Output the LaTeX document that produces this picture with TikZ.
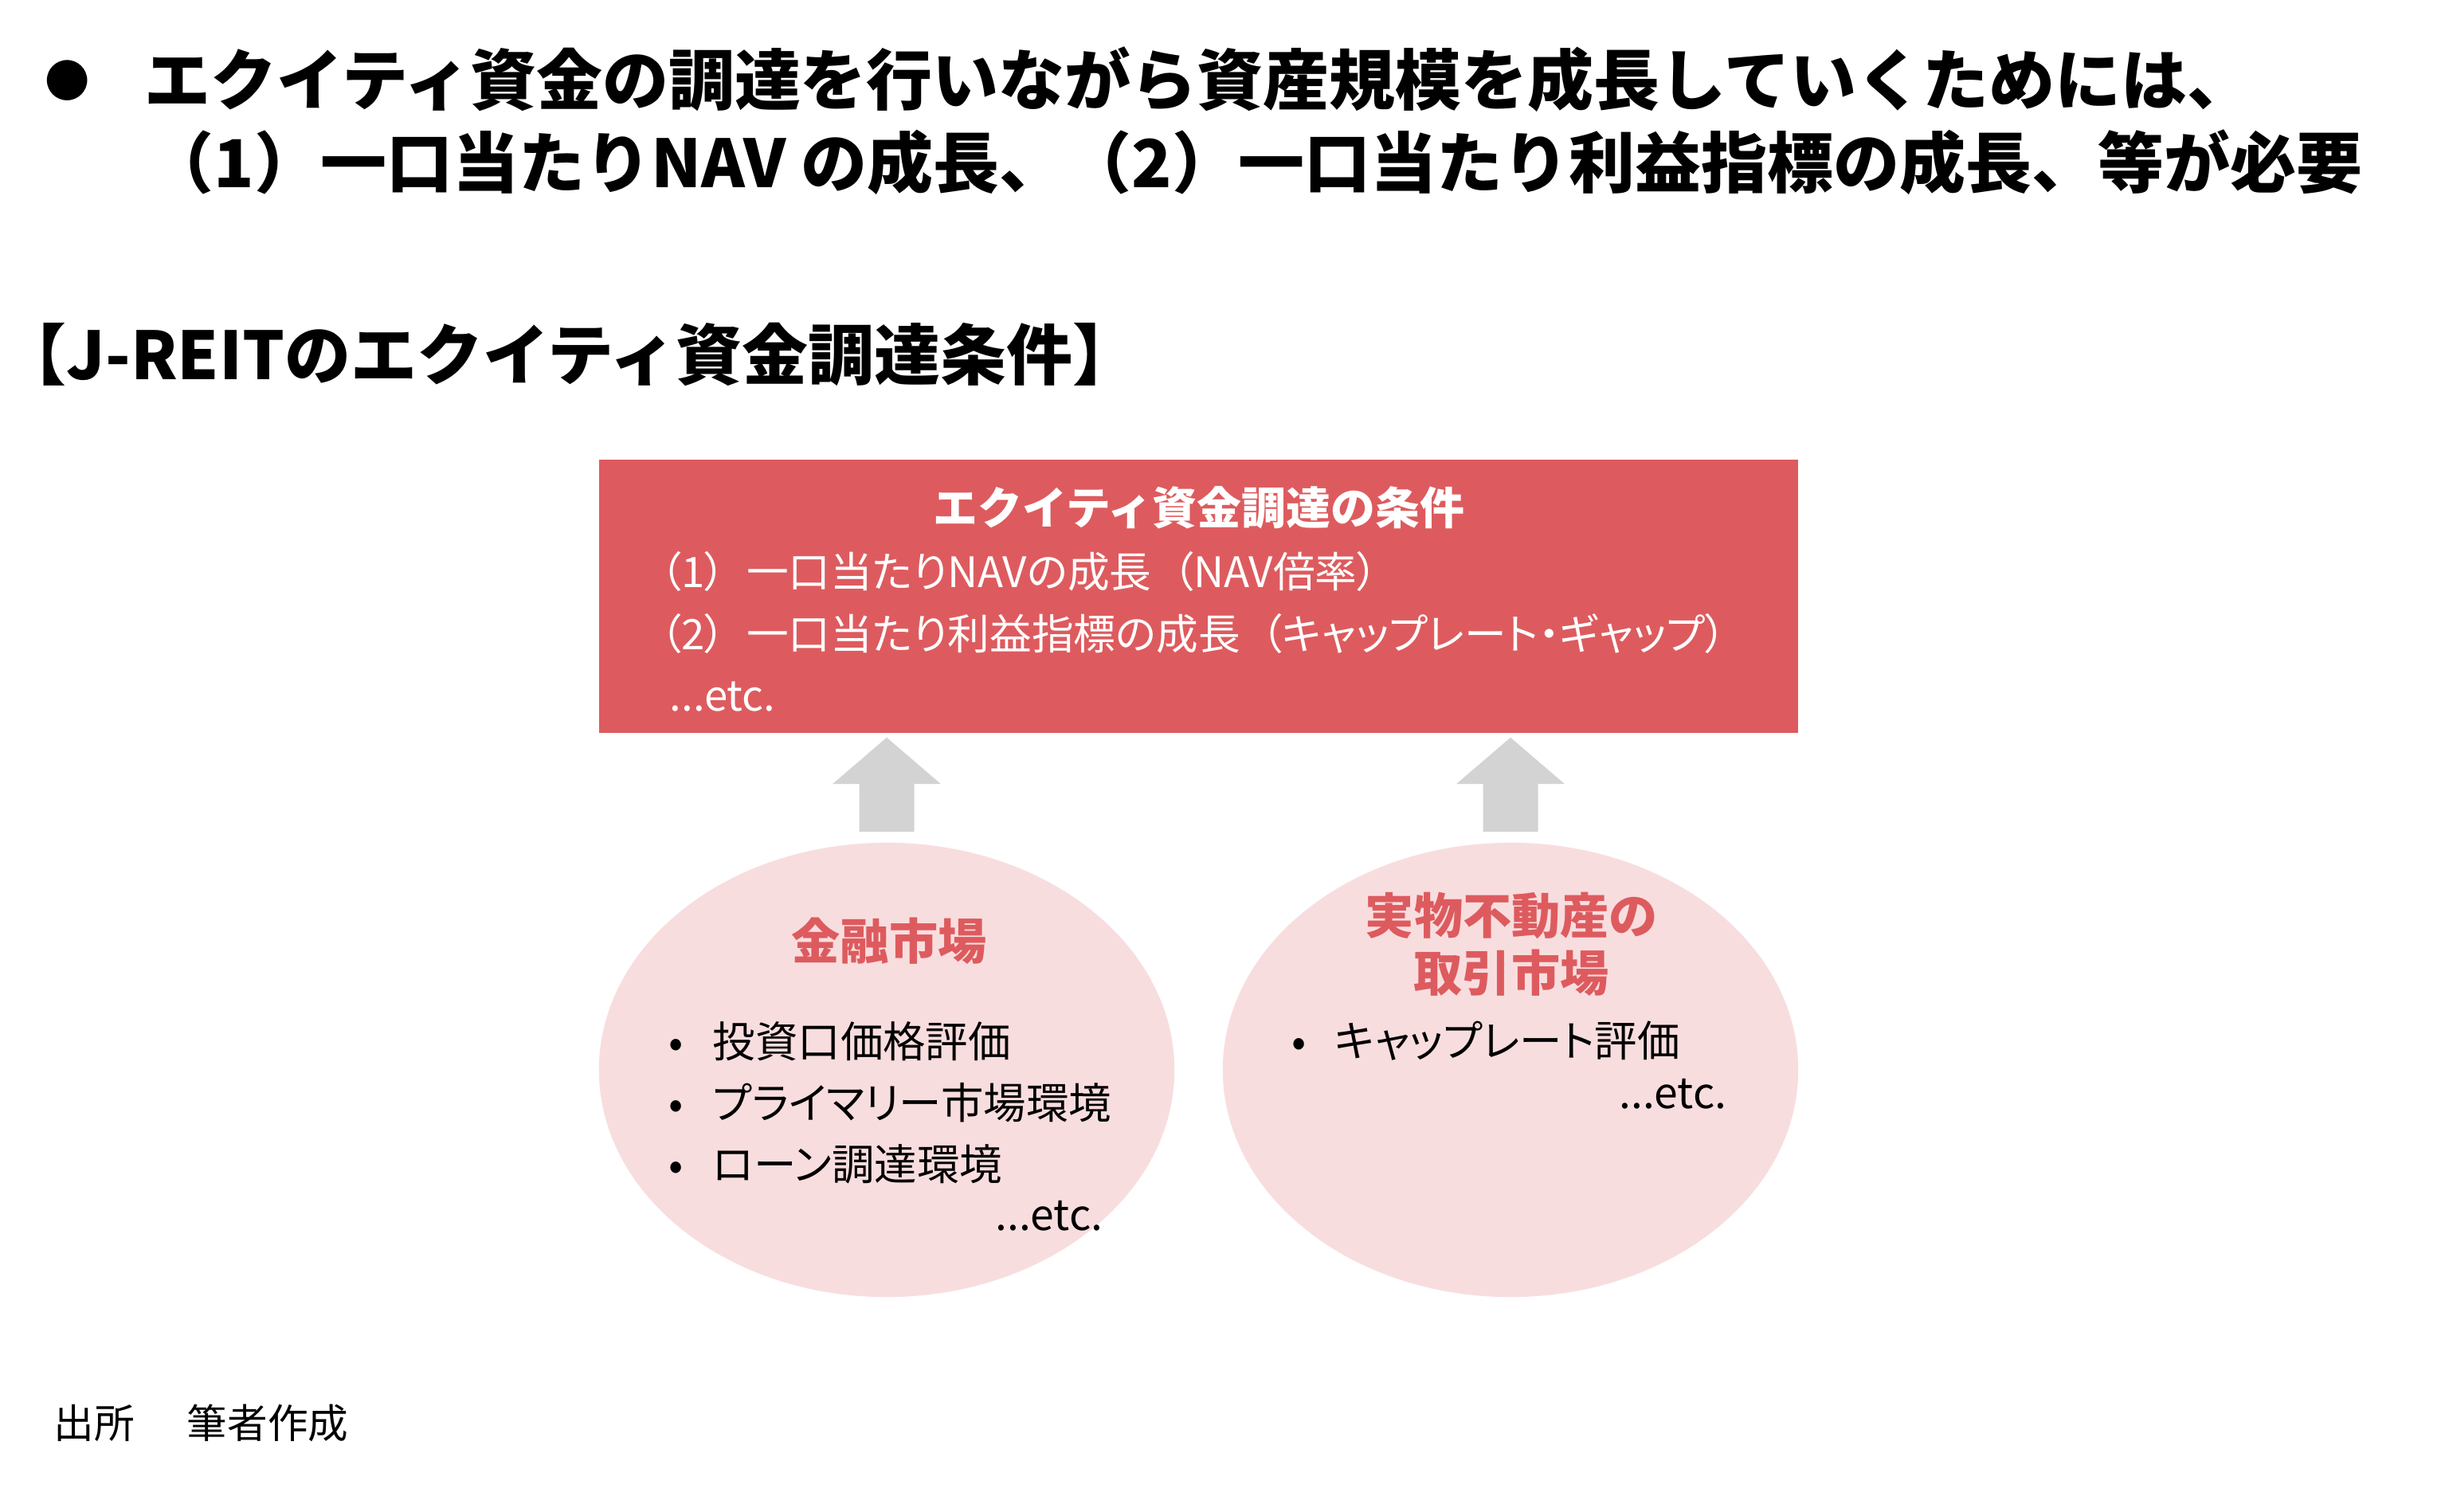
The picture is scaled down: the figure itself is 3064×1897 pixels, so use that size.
\documentclass[tikz,border=0pt]{standalone}
\usepackage{fontspec}
\setmainfont{Noto Sans CJK JP}
\newfontfamily\propfont{Noto Sans CJK JP}[RawFeature=+palt]
\usetikzlibrary{shapes.geometric,calc}
\definecolor{boxred}{RGB}{221,91,94}
\definecolor{pinkfill}{RGB}{248,221,223}
\definecolor{arrowgray}{RGB}{211,211,211}
\newcommand{\wopen}{\kern.5em（}
\newcommand{\wclose}{）\kern.5em}
\tikzset{
  toptext/.style={font=\fontsize{23.6pt}{28pt}\selectfont\bfseries, inner sep=0pt, anchor=west},
  topbullet/.style={font=\fontsize{16pt}{20pt}\selectfont, inner sep=0pt},
  headtext/.style={font=\fontsize{23.6pt}{28pt}\selectfont\bfseries, inner sep=0pt, anchor=west},
  redbox/.style={rectangle, fill=boxred, draw=none, minimum width=15.05cm, minimum height=3.43cm, inner sep=0pt},
  boxtitle/.style={font=\fontsize{15.9pt}{19pt}\selectfont\bfseries, text=white, inner sep=0pt},
  boxline/.style={font=\propfont\fontsize{15pt}{18pt}\selectfont, text=white, inner sep=0pt, anchor=west},
  pinkell/.style={ellipse, fill=pinkfill, draw=none, minimum width=7.22cm, minimum height=5.70cm, inner sep=0pt},
  elltitle/.style={font=\propfont\fontsize{17.4pt}{20.5pt}\selectfont\bfseries, text=boxred, inner sep=0pt, align=center},
  itemtext/.style={font=\propfont\fontsize{15.2pt}{18pt}\selectfont, inner sep=0pt, anchor=west},
  itembullet/.style={font=\propfont\fontsize{15.2pt}{18pt}\selectfont, inner sep=0pt, anchor=base},
  etctext/.style={font=\propfont\fontsize{15.2pt}{18pt}\selectfont, inner sep=0pt, anchor=base east},
  foottext/.style={font=\fontsize{14.4pt}{17pt}\selectfont, inner sep=0pt, anchor=west},
  blockarrow/.style={fill=arrowgray, draw=none}
}
\begin{document}
\begin{tikzpicture}[x=0.01cm, y=-0.01cm]
\useasboundingbox (0,0) rectangle (3064,1897);
\fill[white] (0,0) rectangle (3064,1897);

% top statement
\node[topbullet] (dot) at (85,101) {●};
\node[toptext] (l1) at (181,100) {エクイティ資金の調達を行いながら資産規模を成長していくためには、};
\node[toptext] (l2) at (185,204) {（1）一口当たりNAV の成長、（2）一口当たり利益指標の成長、等が必要};

% heading
\node[headtext] (head) at (0,445) {【J-REITのエクイティ資金調達条件】};

% conditions box
\node[redbox] (box) at (1504.5,748.5) {};
\node[boxtitle] (bt) at (1505,637) {エクイティ資金調達の条件};
\node[boxline] (b1) at (828,717) {（1\wclose 一口当たりNAVの成長\wopen NAV倍率）};
\node[boxline] (b2) at (828,795) {（2\wclose 一口当たり利益指標の成長\wopen キャップレート・ギャップ）};
\node[etctext, text=white, anchor=base west, font=\propfont\fontsize{15pt}{18pt}\selectfont] (b3) at (840,892) {...etc.};

% ellipses
\node[pinkell] (e1) at (1113,1343) {};
\node[pinkell] (e2) at (1896,1343) {};

\node[elltitle] (t1) at (1116,1181) {金融市場};
\node[elltitle] (t2) at (1897,1185) {実物不動産の\\取引市場};

\node[itemtext] (i1) at (894,1307) {投資口価格評価};
\node[itemtext] (i2) at (894,1384) {プライマリー市場環境};
\node[itemtext] (i3) at (894,1461) {ローン調達環境};
\node[itembullet] (d1) at ($(i1.base west)+(-45,0)$) {•};
\node[itembullet] (d2) at ($(i2.base west)+(-45,0)$) {•};
\node[itembullet] (d3) at ($(i3.base west)+(-45,0)$) {•};
\node[etctext] (x1) at (1385,1544) {...etc.};

\node[itemtext] (j1) at (1675,1307) {キャップレート評価};
\node[itembullet] (k1) at ($(j1.base west)+(-44,0)$) {•};
\node[etctext] (x2) at (2168,1391) {...etc.};

% block arrows from ellipses to box
\coordinate (a1s) at ($(e1.north)+(0,-13)$);
\coordinate (a1t) at ($(e1.north |- box.south)+(0,5)$);
\coordinate (a2s) at ($(e2.north)+(0,-13)$);
\coordinate (a2t) at ($(e2.north |- box.south)+(0,5)$);
\fill[blockarrow] ($(a1s)+(-34.5,0)$) -- ($(a1s)+(-34.5,-60)$) -- ($(a1s)+(-68,-60)$) -- (a1t) -- ($(a1s)+(68,-60)$) -- ($(a1s)+(34.5,-60)$) -- ($(a1s)+(34.5,0)$) -- cycle;
\fill[blockarrow] ($(a2s)+(-34.5,0)$) -- ($(a2s)+(-34.5,-60)$) -- ($(a2s)+(-68,-60)$) -- (a2t) -- ($(a2s)+(68,-60)$) -- ($(a2s)+(34.5,-60)$) -- ($(a2s)+(34.5,0)$) -- cycle;

% source
\node[foottext] (src) at (67,1786) {出所\hspace{1.3em}筆者作成};
\end{tikzpicture}
\end{document}
